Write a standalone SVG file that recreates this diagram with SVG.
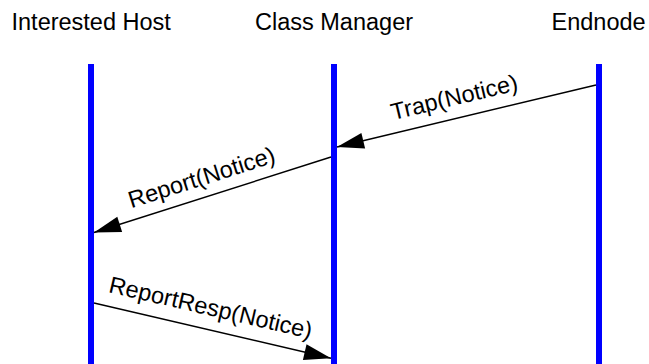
<svg xmlns="http://www.w3.org/2000/svg" width="649" height="364" viewBox="0 0 649 364">
  <style>
    .hdr { font-family: "Liberation Sans", Arial, sans-serif; font-size: 23.5px; fill: #000; }
    .lbl { font-family: "Liberation Sans", Arial, sans-serif; font-size: 23.5px; fill: #000; text-anchor: middle; }
    .life { stroke: #0000ff; stroke-width: 6; fill: none; }
    .msg { stroke: #000; stroke-width: 1.4; fill: none; marker-end: url(#arrow); }
  </style>
  <defs>
    <marker id="arrow" markerUnits="userSpaceOnUse" markerWidth="30" markerHeight="20" viewBox="-28 -9 30 18" refX="0" refY="0" orient="auto">
      <path d="M0,0 L-27,-8 L-27,8 Z" fill="#000"/>
    </marker>
  </defs>
  <rect width="649" height="364" fill="#fff"/>
  <g id="interested-host">
    <text class="hdr" x="11.5" y="30">Interested Host</text>
    <line class="life" x1="91" y1="64" x2="91" y2="364"/>
  </g>
  <g id="class-manager">
    <text class="hdr" x="255" y="30">Class Manager</text>
    <line class="life" x1="334" y1="64" x2="334" y2="364"/>
  </g>
  <g id="endnode">
    <text class="hdr" x="551.5" y="30">Endnode</text>
    <line class="life" x1="599" y1="64" x2="599" y2="364"/>
  </g>
  <g id="connectors">
    <g id="trap">
      <line class="msg" x1="596" y1="85" x2="337" y2="147"/>
      <text class="lbl" transform="translate(456,105) rotate(-13.5)">Trap(Notice)</text>
    </g>
    <g id="report">
      <line class="msg" x1="331" y1="157" x2="94" y2="232.5"/>
      <text class="lbl" transform="translate(204,185) rotate(-17.7)">Report(Notice)</text>
    </g>
    <g id="reportresp">
      <line class="msg" x1="94" y1="303" x2="331" y2="358.3"/>
      <text class="lbl" transform="translate(209,315.3) rotate(13)">ReportResp(Notice)</text>
    </g>
  </g>
</svg>
